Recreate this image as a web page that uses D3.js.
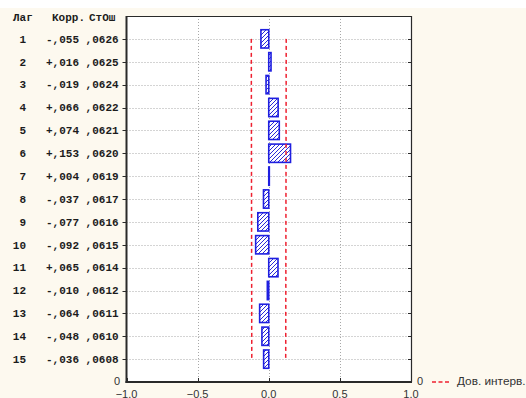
<!DOCTYPE html>
<html>
<head>
<meta charset="utf-8">
<script src="https://cdn.jsdelivr.net/npm/d3@7"></script>
<style>
  html, body { margin: 0; padding: 0; background: #ffffff; }
  svg { display: block; }
</style>
</head>
<body>
<svg id="chart" width="526" height="398"></svg>
<script>
// Autocorrelation function: lag, correlation and its standard error
const lags = [1, 2, 3, 4, 5, 6, 7, 8, 9, 10, 11, 12, 13, 14, 15];
const corr = [-0.055, 0.016, -0.019, 0.066, 0.074, 0.153, 0.004, -0.037, -0.077, -0.092, 0.065, -0.010, -0.064, -0.048, -0.036];
const stdErr = [0.0626, 0.0625, 0.0624, 0.0622, 0.0621, 0.0620, 0.0619, 0.0617, 0.0616, 0.0615, 0.0614, 0.0612, 0.0611, 0.0610, 0.0608];
const corrLabels = ["-,055", "+,016", "-,019", "+,066", "+,074", "+,153", "+,004", "-,037", "-,077", "-,092", "+,065", "-,010", "-,064", "-,048", "-,036"];
const seLabels = [",0626", ",0625", ",0624", ",0622", ",0621", ",0620", ",0619", ",0617", ",0616", ",0615", ",0614", ",0612", ",0611", ",0610", ",0608"];
const xTicks = [-1.0, -0.5, 0.0, 0.5, 1.0];
const headers = ["Лаг", "Корр.", "СтОш"];
const legendLabel = "Дов. интерв.";

const svg = d3.select("#chart");
const W = 526, H = 398;
const plot = { left: 126.5, right: 411, top: 16, bottom: 382 };

const x = d3.scaleLinear().domain([-1, 1]).range([plot.left, plot.right]);
const y = d3.scaleLinear().domain([0, 16]).range([plot.top, plot.bottom]);
const rowH = y(1) - y(0);

// page background
svg.append("rect").attr("x", 0).attr("y", 8).attr("width", W).attr("height", H - 8).attr("fill", "#fdf9ef");

// hatch pattern for bars
const defs = svg.append("defs");
const pat = defs.append("pattern").attr("id", "hatch")
  .attr("patternUnits", "userSpaceOnUse").attr("width", 4).attr("height", 4);
pat.append("rect").attr("width", 4).attr("height", 4).attr("fill", "#ffffff");
pat.append("path").attr("d", "M-1,1 l2,-2 M0,4 l4,-4 M3,5 l2,-2")
  .attr("stroke", "#2b2bd8").attr("stroke-width", 1);

// plot area
svg.append("rect").attr("x", plot.left).attr("y", plot.top)
  .attr("width", plot.right - plot.left).attr("height", plot.bottom - plot.top)
  .attr("fill", "#ffffff");

// grid
const grid = svg.append("g").attr("stroke", "#a8a8a8").attr("stroke-width", 1).attr("stroke-dasharray", "1,2");
grid.selectAll("line.h").data(lags).join("line")
  .attr("x1", plot.left).attr("x2", plot.right)
  .attr("y1", d => Math.round(y(d)) + 0.5).attr("y2", d => Math.round(y(d)) + 0.5);
grid.selectAll("line.v").data(xTicks.slice(1, -1)).join("line")
  .attr("x1", d => Math.round(x(d)) + 0.5).attr("x2", d => Math.round(x(d)) + 0.5)
  .attr("y1", plot.top).attr("y2", plot.bottom);

// correlation bars
const data = lags.map((l, i) => ({ lag: l, r: corr[i], se: stdErr[i] }));
svg.append("g").selectAll("rect").data(data).join("rect")
  .attr("x", d => x(Math.min(0, d.r)))
  .attr("width", d => Math.abs(x(d.r) - x(0)))
  .attr("y", d => y(d.lag) - rowH * 0.4)
  .attr("height", rowH * 0.8)
  .attr("fill", "url(#hatch)")
  .attr("stroke", "#1f1fe0").attr("stroke-width", 1.6);

// confidence limits (±1.96 SE)
const conf = svg.append("g").attr("fill", "none").attr("stroke", "#ee2030")
  .attr("stroke-width", 1.5).attr("stroke-dasharray", "4,3");
[-1, 1].forEach(s => {
  conf.append("path").attr("d", d3.line()
    .x(d => x(s * 1.96 * d.se)).y(d => y(d.lag))(data));
});

// frame
const frame = svg.append("g").attr("stroke", "#2a2a2a");
frame.append("line").attr("x1", plot.left).attr("x2", plot.right).attr("y1", plot.top + 0.5).attr("y2", plot.top + 0.5).attr("stroke-width", 1.2);
frame.append("line").attr("x1", plot.right + 0.5).attr("x2", plot.right + 0.5).attr("y1", plot.top).attr("y2", plot.bottom).attr("stroke-width", 1.2);
frame.append("line").attr("x1", plot.left).attr("x2", plot.left).attr("y1", plot.top).attr("y2", plot.bottom + 1).attr("stroke-width", 2);
frame.append("line").attr("x1", plot.left - 1).attr("x2", plot.right + 1).attr("y1", plot.bottom).attr("y2", plot.bottom).attr("stroke-width", 2);

// ticks
const ticks = svg.append("g").attr("stroke", "#2a2a2a").attr("stroke-width", 1);
ticks.selectAll("line.l").data(lags).join("line")
  .attr("x1", plot.left - 4).attr("x2", plot.left)
  .attr("y1", d => Math.round(y(d)) + 0.5).attr("y2", d => Math.round(y(d)) + 0.5);
ticks.selectAll("line.r").data(lags).join("line")
  .attr("x1", plot.right - 3).attr("x2", plot.right)
  .attr("y1", d => Math.round(y(d)) + 0.5).attr("y2", d => Math.round(y(d)) + 0.5);
ticks.selectAll("line.b").data(xTicks).join("line")
  .attr("x1", d => Math.round(x(d)) + 0.5).attr("x2", d => Math.round(x(d)) + 0.5)
  .attr("y1", plot.bottom - 4).attr("y2", plot.bottom);

// table columns on the left
const mono = "'Liberation Mono', 'DejaVu Sans Mono', monospace";
const tbl = svg.append("g").attr("font-family", mono).attr("font-size", 11)
  .attr("font-weight", "bold").attr("fill", "#1c1c1c");
tbl.append("text").attr("x", 13).attr("y", 17).attr("dy", "0.35em").text(headers[0]);
tbl.append("text").attr("x", 52).attr("y", 17).attr("dy", "0.35em").text(headers[1]);
tbl.append("text").attr("x", 89).attr("y", 17).attr("dy", "0.35em").text(headers[2]);
tbl.selectAll("text.lag").data(lags).join("text")
  .attr("x", 26).attr("y", d => y(d)).attr("dy", "0.35em")
  .attr("text-anchor", "end").text(d => d);
tbl.selectAll("text.row").data(lags).join("text")
  .attr("x", 46).attr("y", d => y(d)).attr("dy", "0.35em")
  .attr("xml:space", "preserve")
  .text((d, i) => corrLabels[i] + " " + seLabels[i]);

// axis labels
const sans = "Arial, 'Liberation Sans', sans-serif";
const lab = svg.append("g").attr("font-family", sans).attr("font-size", 11).attr("fill", "#333");
lab.selectAll("text.x").data(xTicks).join("text")
  .attr("x", d => x(d)).attr("y", 398).attr("text-anchor", "middle")
  .text(d => d3.format(".1f")(d));
lab.append("text").attr("x", 120).attr("y", 385).attr("text-anchor", "end").text("0");
lab.append("text").attr("x", 417).attr("y", 385).text("0");

// legend
svg.append("line").attr("x1", 432).attr("x2", 449).attr("y1", 382).attr("y2", 382)
  .attr("stroke", "#ee2030").attr("stroke-width", 1.5).attr("stroke-dasharray", "4,2.5");
lab.append("text").attr("x", 457).attr("y", 385).attr("font-size", 11.8).text(legendLabel);
</script>
</body>
</html>
